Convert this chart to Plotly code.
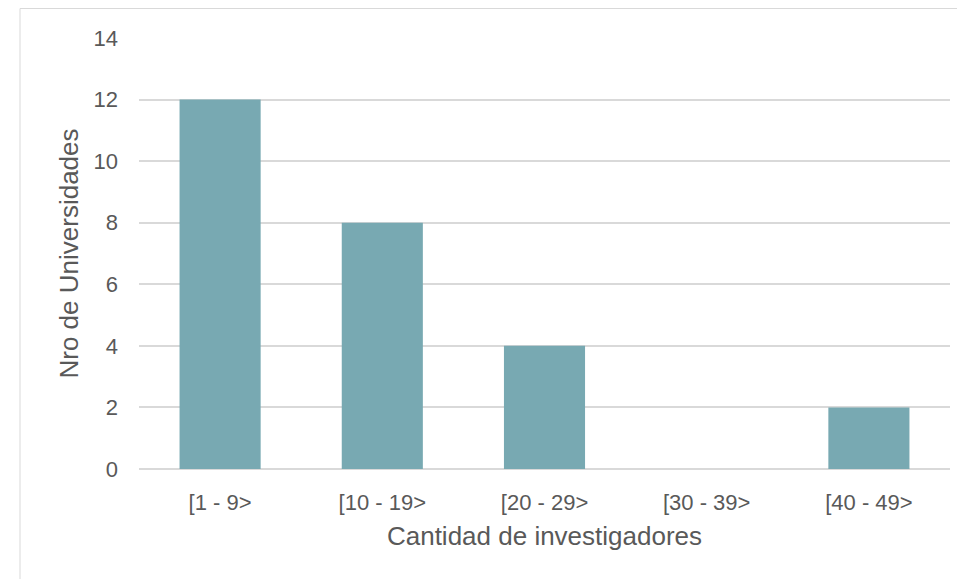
import plotly.graph_objects as go

# Data
categories = ["[1 - 9>", "[10 - 19>", "[20 - 29>", "[30 - 39>", "[40 - 49>"]
universidades = [12, 8, 4, 0, 2]
y_ticks = [0, 2, 4, 6, 8, 10, 12, 14]

fig = go.Figure()

fig.add_trace(go.Bar(
    x=categories,
    y=universidades,
    marker_color="#78A9B2",
    marker_line_width=0,
    width=0.5,
))

# page body adds an 8px margin, so the figure is 8px smaller than the window
fig.update_layout(
    width=957,
    height=571,
    margin=dict(l=131, r=15, t=30, b=110),
    paper_bgcolor="white",
    plot_bgcolor="white",
    font=dict(family="Liberation Sans, Arial, sans-serif", color="#595959", size=22),
    showlegend=False,
    shapes=[dict(
        type="rect", xref="paper", yref="paper",
        x0=-119 / 811, x1=1.2, y0=-0.5, y1=1 + 29.5 / 431,
        line=dict(color="#D9D9D9", width=1), fillcolor="rgba(0,0,0,0)", layer="below",
    )],
)

fig.update_xaxes(
    title=dict(text="Cantidad de investigadores", font=dict(size=26), standoff=12),
    showgrid=False,
    showline=False,
    ticks="",
    ticklabelstandoff=18,
)
fig.update_yaxes(
    title=dict(text="Nro de Universidades", font=dict(size=26), standoff=7),
    range=[0, 14],
    tickvals=y_ticks,
    showgrid=True,
    gridcolor="#D9D9D9",
    gridwidth=1.5,
    zeroline=True,
    zerolinecolor="#D9D9D9",
    zerolinewidth=1.5,
    ticks="",
    ticklabelstandoff=20,
)

fig.write_html("out.html")
